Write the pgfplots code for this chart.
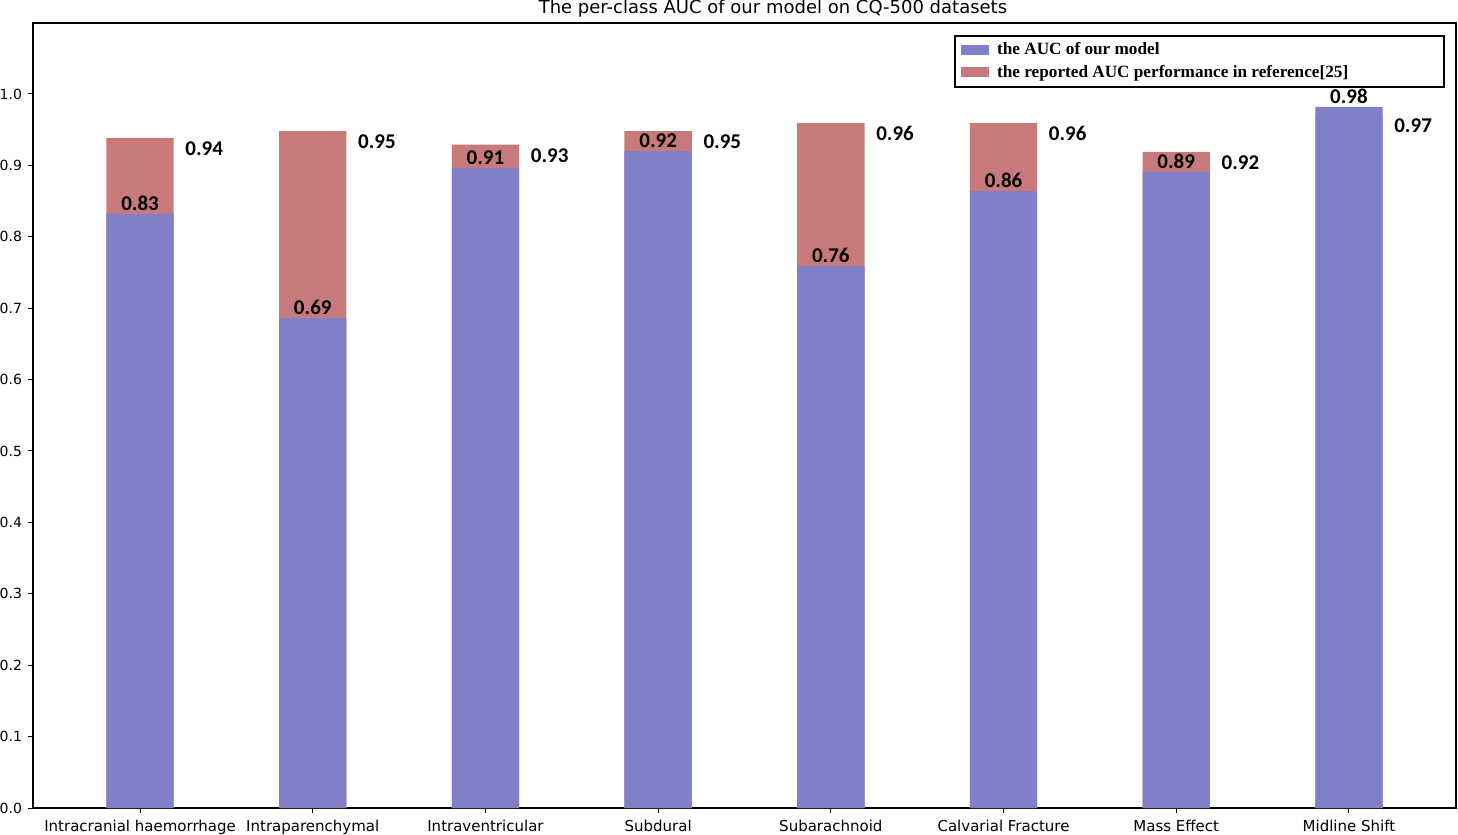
\documentclass[border=0pt]{standalone}
\usepackage{pgfplots}
\pgfplotsset{compat=1.18}
\usepackage{pgfplotstable}
\usepackage{fontspec}
\setmainfont{DejaVu Sans}
\newfontfamily\valfont{Carlito}
\newfontfamily\legfont{Liberation Serif}
\definecolor{ourblue}{RGB}{128,128,200}
\definecolor{refred}{RGB}{200,122,122}
\pgfplotstableread{
x blue bl red rl
0 0.832 0.83 0.938 0.94
1 0.686 0.69 0.948 0.95
2 0.896 0.91 0.929 0.93
3 0.920 0.92 0.948 0.95
4 0.759 0.76 0.959 0.96
5 0.864 0.86 0.959 0.96
6 0.891 0.89 0.919 0.92
7 0.982 0.98 0.970 0.97
}\data
\begin{document}
\begin{tikzpicture}
\begin{axis}[
  name=ax,
  scale only axis,
  width=711.5pt, height=392.5pt,
  xmin=-0.62, xmax=7.62,
  ymin=0, ymax=1.0994,
  axis line style={line width=0.6pt},
  xtick={0,...,7},
  xticklabels={Intracranial haemorrhage, Intraparenchymal, Intraventricular, Subdural, Subarachnoid, Calvarial Fracture, Mass Effect, Midline Shift},
  ytick={0,0.1,...,1.0},
  /pgf/number format/assume math mode=true,
  xticklabel style={font=\fontsize{7.5}{8.5}\selectfont},
  yticklabel style={font=\fontsize{7}{8}\selectfont, xshift=0.5pt, /pgf/number format/.cd, fixed, fixed zerofill, precision=1},
  tick align=outside,
  major tick length=2.5pt,
  tick style={black, line width=0.5pt},
  xtick pos=bottom, ytick pos=left,
  title={The per-class AUC of our model on CQ-500 datasets},
  every axis title/.style={font=\fontsize{9}{10}\selectfont, at={(0.52,1)}, anchor=base, yshift=4.5pt},
  legend style={at={(1,1)}, anchor=north east, xshift=-5.5pt, yshift=-6pt,
    draw=black, line width=0.8pt, font=\legfont\bfseries\fontsize{8.6}{10}\selectfont,
    cells={anchor=west}, row sep=-0.5pt, inner xsep=3pt, inner ysep=1.5pt},
  reverse legend,
  legend image code/.code={\fill[#1] (0pt,-2.5pt) rectangle (14pt,2.5pt); \path (16pt,0pt);},
]
\addplot[ybar, bar width=0.39, bar shift=0pt, fill=refred, draw=none,
  nodes near coords, point meta=explicit symbolic,
  every node near coord/.style={anchor=west, inner sep=0pt, xshift=22.5pt, yshift=-5.3pt, black,
    font=\valfont\bfseries\fontsize{10.5}{12}\selectfont}]
  table[x=x, y=red, meta=rl] {\data};
\addlegendentry{the reported AUC performance in reference[25]\kern43pt}
\addplot[ybar, bar width=0.39, bar shift=0pt, fill=ourblue, draw=none,
  nodes near coords, point meta=explicit symbolic,
  every node near coord/.style={anchor=south, inner sep=0pt, yshift=1.5pt, black,
    font=\valfont\bfseries\fontsize{10.5}{12}\selectfont}]
  table[x=x, y=blue, meta=bl] {\data};
\addlegendentry{the AUC of our model}
\end{axis}
\pgfresetboundingbox
\path (ax.south west)+(-16.5pt,-13pt) coordinate (bl);
\path (ax.north east)+(1pt,11.5pt) coordinate (tr);
\path[use as bounding box] (bl) rectangle (tr);
\end{tikzpicture}
\end{document}
